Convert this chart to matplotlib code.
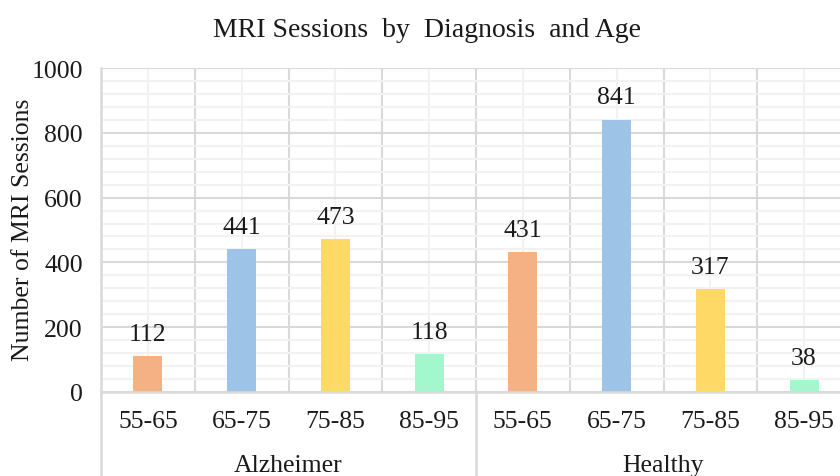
import matplotlib
matplotlib.use('Agg')
import matplotlib.pyplot as plt
import numpy as np

# sessions per age band, one list per diagnosis
diagnoses = ['Alzheimer', 'Healthy']
age_groups = ['55-65', '65-75', '75-85', '85-95']
alzheimer = [112, 441, 473, 118]
healthy = [431, 841, 317, 38]
bar_colors = ['#F4B183', '#9DC3E6', '#FFD966', '#A2F7CC']

plt.rcParams['font.family'] = ['Liberation Serif', 'DejaVu Serif']
FS = 18.5
TXT = '#1a1a1a'

fig = plt.figure(figsize=(8.4, 4.77), dpi=100)
W, H = 840, 477
ax = fig.add_axes([101 / W, (H - 393) / H, 750 / W, 324 / H])

values = alzheimer + healthy
n = len(values)
centers = np.arange(n) + 0.5
ax.bar(centers, values, width=0.31, color=bar_colors * len(diagnoses), zorder=3)

for x, v in zip(centers, values):
    ax.annotate(str(v), (x, v), xytext=(0, 8), textcoords='offset points',
                ha='center', va='bottom', fontsize=FS, color=TXT)

ax.set_xlim(0, n)
ax.set_ylim(0, 1000)

# grid: category boundaries / centres, every 200 / every 40
ax.set_xticks(np.arange(n + 1))
ax.set_xticklabels([])
ax.set_xticks(centers, age_groups * len(diagnoses), minor=True)
ax.set_yticks(np.arange(0, 1001, 200))
ax.set_yticks(np.arange(0, 1001, 40), minor=True)
ax.grid(which='major', color='#D9D9D9', linewidth=1.5, zorder=0)
ax.grid(which='minor', color='#F2F2F2', linewidth=1.5, zorder=0)
ax.tick_params(which='both', length=0, labelsize=FS, colors=TXT)
ax.tick_params(axis='x', which='minor', pad=13)
ax.tick_params(axis='y', pad=13)

for side in ['top', 'right']:
    ax.spines[side].set_visible(False)
for side in ['left', 'bottom']:
    ax.spines[side].set_color('#D9D9D9')
    ax.spines[side].set_linewidth(1.8)
    ax.spines[side].set_zorder(4)

# diagnosis group separators and labels below the age labels
for i, name in enumerate(diagnoses):
    x0 = i * len(age_groups)
    ax.plot([x0, x0], [0, -0.3], transform=ax.get_xaxis_transform(),
            color='#D9D9D9', linewidth=1.8, clip_on=False)
    ax.text(x0 + len(age_groups) / 2, -0.244, name, transform=ax.get_xaxis_transform(),
            ha='center', va='baseline', fontsize=FS, color=TXT)

fig.text(23 / W, 1 - 230 / H, 'Number of MRI Sessions', rotation=90,
         ha='center', va='center', fontsize=18.5, color=TXT)
fig.text(0.508, 1 - 37 / H, 'MRI Sessions  by  Diagnosis  and Age', ha='center',
         va='baseline', fontsize=20, color=TXT)

fig.savefig('out.png', dpi=100)
